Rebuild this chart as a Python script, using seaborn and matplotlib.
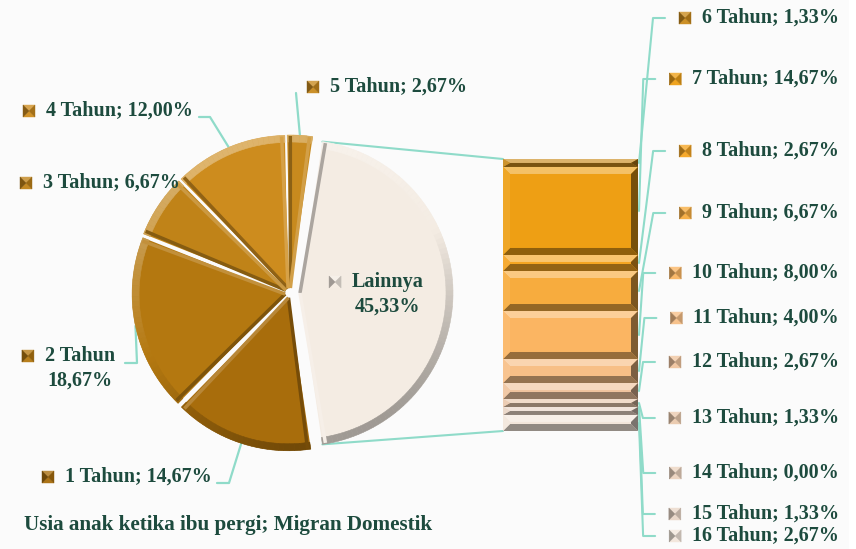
import numpy as np
import pandas as pd
import matplotlib
matplotlib.use("Agg")
import matplotlib.pyplot as plt
import matplotlib.colors as mcolors
from matplotlib.patches import Polygon, Wedge, Rectangle
import seaborn as sns

# ---------------- data ----------------
pie_labels = ["Lainnya", "5 Tahun", "4 Tahun", "3 Tahun", "2 Tahun", "1 Tahun"]
pie_values = [45.33, 2.67, 12.00, 6.67, 18.67, 14.67]

bar_labels = ["6 Tahun", "7 Tahun", "8 Tahun", "9 Tahun", "10 Tahun", "11 Tahun",
              "12 Tahun", "13 Tahun", "14 Tahun", "15 Tahun", "16 Tahun"]
bar_values = [1.33, 14.67, 2.67, 6.67, 8.00, 4.00, 2.67, 1.33, 0.00, 1.33, 2.67]

title = "Usia anak ketika ibu pergi; Migran Domestik"

# ---------------- style ----------------
pie_colors = ["#f4ece3", "#c88a1e", "#cd8c1e", "#c08318", "#b47810", "#a86d0c"]
bar_colors = ["#c98a1c", "#ee9f14", "#f5a421", "#f7ac3e", "#fbb562", "#f7bf86",
              "#f0c49e", "#eac9ad", "#ecd3bf", "#e9d6c7", "#f2e6db"]
TEXT = "#1d4b3e"
LINE = "#8fdbc9"
FONT = "Liberation Serif"
FS = 14.5
FS_TITLE = 15.2

sns.set_theme(style="white")
plt.rcParams["font.family"] = [FONT, "DejaVu Sans"]

W, H = 856, 549
fig = plt.figure(figsize=(W / 100, H / 100), dpi=100, facecolor="white")
ax = fig.add_axes([0, 0, 1, 1])
ax.set_facecolor("white")
ax.add_patch(Rectangle((0, 0), 849, H, facecolor="#fbfbfb", edgecolor="none", zorder=0))


def shade(c, f):
    """f>0 lighten toward white, f<0 darken toward black."""
    rgb = np.array(mcolors.to_rgb(c))
    if f >= 0:
        return tuple(rgb + (1 - rgb) * f)
    return tuple(rgb * (1 + f))


def fmt(v):
    return f"{v:.2f}".replace(".", ",") + "%"


# ---------------- pie ----------------
cx, cy, R = 290, 293, 153
explode_px = [10, 5, 5, 5, 5, 5]
start = pie_values[0] / 100 * 360 / 2  # Lainnya centred on the right
wedges, _ = ax.pie(pie_values, colors=pie_colors, startangle=start, counterclock=False,
                   center=(cx, cy), radius=R, explode=explode_px,
                   wedgeprops=dict(linewidth=0), frame=True)
ax.set_aspect("auto")
ax.set_xlim(0, W)
ax.set_ylim(H, 0)
ax.axis("off")

# bevel rim on every wedge (light from upper-left)
for w, col in zip(wedges, pie_colors):
    t1, t2 = w.theta1, w.theta2
    n = max(2, int((t2 - t1) / 2))
    edges = np.linspace(t1, t2, n + 1)
    for a, b in zip(edges[:-1], edges[1:]):
        phi = -(a + b) / 2  # visual angle (y inverted)
        f = np.cos(np.radians(phi - 115))
        c = shade(col, 0.35 * f)
        ax.add_patch(Wedge(w.center, w.r, a, b, width=7, facecolor=c, edgecolor=c,
                           linewidth=0.4, zorder=3))
    # radial edge shading
    x0, y0 = w.center
    for ang, f, off in ((t1, -0.3, 1.2), (t2, 0.18, -1.2)):
        ca, sa = np.cos(np.radians(ang + off)), np.sin(np.radians(ang + off))
        ax.plot([x0, x0 + (w.r - 1) * ca], [y0, y0 + (w.r - 1) * sa],
                color=shade(col, f), lw=2.5, zorder=3, solid_capstyle="butt")


def draw_marker(xl, yc, col, s=12):
    x0, x1, y0, y1 = xl, xl + s, yc - s / 2, yc + s / 2
    xm, ym = (x0 + x1) / 2, (y0 + y1) / 2
    tris = [([(x0, y0), (x1, y0), (xm, ym)], 0.22),
            ([(x0, y1), (x1, y1), (xm, ym)], 0.05),
            ([(x0, y0), (x0, y1), (xm, ym)], -0.35),
            ([(x1, y0), (x1, y1), (xm, ym)], -0.2)]
    for pts, f in tris:
        c = shade(col, f)
        ax.add_patch(Polygon(pts, closed=True, facecolor=c, edgecolor=c, lw=0.3, zorder=6))


# pie labels: (text x, y, ha)
pie_label_pos = {
    "Lainnya": (388, 282, "center"),
    "5 Tahun": (330, 87, "left"),
    "4 Tahun": (46, 111, "left"),
    "3 Tahun": (43, 183, "left"),
    "2 Tahun": (80, 356, "center"),
    "1 Tahun": (65, 477, "left"),
}
leader_elbows = {
    "5 Tahun": [(296, 93)],
    "4 Tahun": [(199, 117), (210, 117)],
    "2 Tahun": [(125, 363), (137, 363)],
    "1 Tahun": [(217, 483), (229, 483)],
}

cum = 0.0
for i, (lab, v, col) in enumerate(zip(pie_labels, pie_values, pie_colors)):
    tx, ty, ha = pie_label_pos[lab]
    if lab in ("Lainnya", "2 Tahun"):
        t1 = ax.text(tx, ty, lab, ha="center", va="center", fontsize=FS, fontweight="bold",
                     color=TEXT, zorder=7)
        ax.text(tx, ty + 25, fmt(v), ha="center", va="center", fontsize=FS,
                fontweight="bold", color=TEXT, zorder=7)
    else:
        t1 = ax.text(tx, ty, f"{lab}; {fmt(v)}", ha=ha, va="center", fontsize=FS,
                     fontweight="bold", color=TEXT, zorder=7)
    fig.canvas.draw()
    bb = t1.get_window_extent().transformed(ax.transData.inverted())
    xleft = min(bb.x0, bb.x1)
    draw_marker(xleft - 23, ty, col)

    if i > 0:
        phi = start + 3.6 * (cum + v / 2)
        dist = R + explode_px[i]
        ex = cx + dist * np.cos(np.radians(phi))
        ey = cy - dist * np.sin(np.radians(phi))
        if lab in leader_elbows:
            pts = leader_elbows[lab] + [(ex, ey)]
            ax.plot([p[0] for p in pts], [p[1] for p in pts], color=LINE, lw=1.6, zorder=2)
        cum += v

# ---------------- bar of pie ----------------
bx0, bx1, by0, by1 = 503, 638, 159, 431
total = sum(bar_values)
axb = fig.add_axes([bx0 / W, 1 - by1 / H, (bx1 - bx0) / W, (by1 - by0) / H])
bottoms = np.concatenate([[0], np.cumsum(bar_values)[:-1]])
axb.bar([0] * len(bar_values), bar_values, bottom=bottoms, width=1.0,
        color=bar_colors, linewidth=0)
axb.set_xlim(-0.5, 0.5)
axb.set_ylim(total, 0)
axb.axis("off")
pxy = (by1 - by0) / total   # pixels per percent
bxd = 7 / (bx1 - bx0)
for b, v, col in zip(bottoms, bar_values, bar_colors):
    if v <= 0:
        continue
    hpx = v * pxy
    byd = min(7, hpx / 2) / pxy
    x0, x1, y0, y1 = -0.5, 0.5, b, b + v
    polys = [([(x0, y0), (x1, y0), (x1 - bxd, y0 + byd), (x0 + bxd, y0 + byd)], 0.35),
             ([(x0, y1), (x1, y1), (x1 - bxd, y1 - byd), (x0 + bxd, y1 - byd)], -0.4),
             ([(x0, y0), (x0 + bxd, y0 + byd), (x0 + bxd, y1 - byd), (x0, y1)], 0.08),
             ([(x1, y0), (x1 - bxd, y0 + byd), (x1 - bxd, y1 - byd), (x1, y1)], -0.5)]
    for pts, f in polys:
        axb.add_patch(Polygon(pts, closed=True, facecolor=shade(col, f), edgecolor="none"))

# connector lines pie -> bar
lw_ = wedges[0]
for ang, yb in ((lw_.theta1, by0), (lw_.theta2, by1)):
    px = lw_.center[0] + lw_.r * np.cos(np.radians(ang))
    py = lw_.center[1] + lw_.r * np.sin(np.radians(ang))
    ax.plot([px, bx0], [py, yb], color=LINE, lw=1.5, zorder=2)

# right labels
bar_label_y = [18, 79, 151, 213, 273, 318, 362, 418, 473, 514, 536]
for lab, v, col, b, ly in zip(bar_labels, bar_values, bar_colors, bottoms, bar_label_y):
    t = ax.text(839, ly, f"{lab}; {fmt(v)}", ha="right", va="center", fontsize=FS,
                fontweight="bold", color=TEXT, zorder=7)
    fig.canvas.draw()
    bb = t.get_window_extent().transformed(ax.transData.inverted())
    mleft = min(bb.x0, bb.x1) - 23
    draw_marker(mleft, ly, col)
    seg_mid = by0 + (b + v / 2) * pxy
    xs = [mleft - 14, mleft - 26, bx1 + 1]
    ys = [ly, ly, seg_mid]
    ax.plot(xs, ys, color=LINE, lw=1.5, zorder=2)

ax.text(24, 525, title, ha="left", va="center", fontsize=FS_TITLE, fontweight="bold",
        color=TEXT, zorder=7)

fig.savefig("out.png", dpi=100, facecolor="white")
